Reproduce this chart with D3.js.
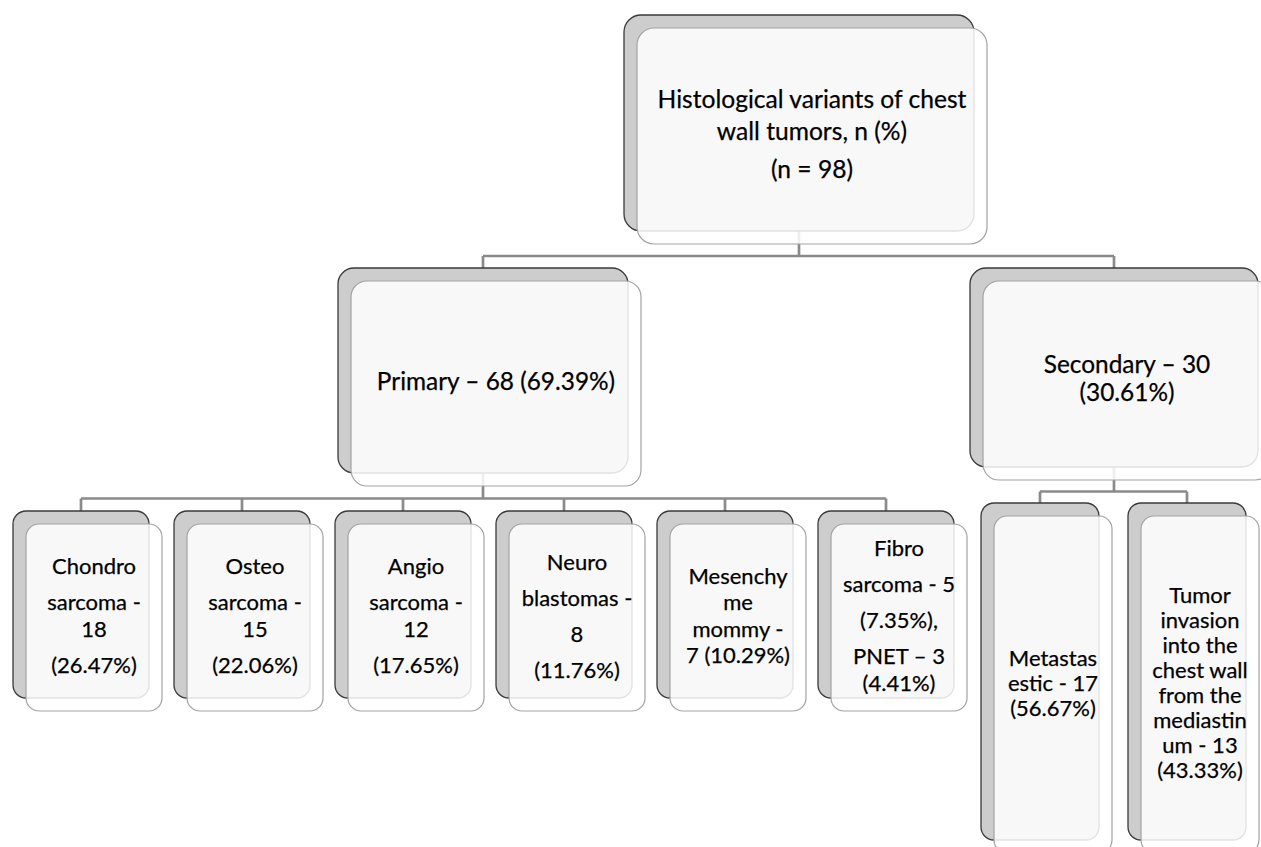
<!DOCTYPE html>
<html>
<head>
<meta charset="utf-8">
<script src="https://cdn.jsdelivr.net/npm/d3@7"></script>
<style>
  html, body { margin: 0; padding: 0; background: #ffffff; }
  svg { display: block; }
</style>
</head>
<body>
<svg id="chart" width="1261" height="847"></svg>
<script>
// ---- values ----
const totalCases = 98;
const groupNames = ["Primary", "Secondary"];
const groupCounts = [68, 30];
const groupPercents = [69.39, 30.61];
const primaryCounts = [18, 15, 12, 8, 7, 5, 3];
const primaryPercents = [26.47, 22.06, 17.65, 11.76, 10.29, 7.35, 4.41];
const secondaryCounts = [17, 13];
const secondaryPercents = [56.67, 43.33];

const pctFmt = d3.format(".2f");
const pct = v => `(${pctFmt(v)}%)`;

// ---- labels: each box holds paragraphs, each paragraph holds lines ----
const rootText = [["Histological variants of chest", "wall tumors, n (%)"], [`(n = ${totalCases})`]];
const groupText = [
  [[`${groupNames[0]} – ${groupCounts[0]} ${pct(groupPercents[0])}`]],
  [[`${groupNames[1]} – ${groupCounts[1]}`, pct(groupPercents[1])]]
];
const primaryText = [
  [["Chondro"], ["sarcoma -", `${primaryCounts[0]}`], [pct(primaryPercents[0])]],
  [["Osteo"], ["sarcoma -", `${primaryCounts[1]}`], [pct(primaryPercents[1])]],
  [["Angio"], ["sarcoma -", `${primaryCounts[2]}`], [pct(primaryPercents[2])]],
  [["Neuro"], ["blastomas -"], [`${primaryCounts[3]}`], [pct(primaryPercents[3])]],
  [["Mesenchy", "me", "mommy -", `${primaryCounts[4]} ${pct(primaryPercents[4])}`]],
  [["Fibro"], [`sarcoma - ${primaryCounts[5]}`], [`${pct(primaryPercents[5])},`],
   [`PNET – ${primaryCounts[6]}`, pct(primaryPercents[6])]]
];
const secondaryText = [
  [["Metastas", `estic - ${secondaryCounts[0]}`, pct(secondaryPercents[0])]],
  [["Tumor", "invasion", "into the", "chest wall", "from the", "mediastin",
    `um - ${secondaryCounts[1]}`, pct(secondaryPercents[1])]]
];

const root = d3.hierarchy({
  text: rootText,
  children: [
    { text: groupText[0], children: primaryText.map(t => ({ text: t })) },
    { text: groupText[1], children: secondaryText.map(t => ({ text: t })) }
  ]
});

// ---- layout of the boxes ----
const FRONT_DX = 13, FRONT_DY = 13;
const xGroups = d3.scalePoint().domain([0, 1]).range([483, 1114]);
const xPrimary = d3.scalePoint().domain(d3.range(primaryText.length)).range([81, 886]);
const xSecondary = d3.scalePoint().domain(d3.range(secondaryText.length)).range([1040, 1187]);

root.each(d => {
  const i = d.parent ? d.parent.children.indexOf(d) : 0;
  if (d.depth === 0) {
    Object.assign(d, { cx: 799, y: 15, w: 350, h: 216, r: 17, font: 24.6, line: 32, gap: 6 });
  } else if (d.depth === 1) {
    Object.assign(d, { cx: xGroups(i), y: 268, w: i === 0 ? 290 : 288, h: i === 0 ? 205 : 199,
                       r: 16, font: 24.4, line: 28, gap: 6 });
  } else if (d.parent.data.text === groupText[0]) {
    Object.assign(d, { cx: xPrimary(i), y: 511, w: 136, h: 187, r: 13, font: 22, line: 26.5, gap: 9.5 });
  } else {
    Object.assign(d, { cx: xSecondary(i), y: 503, w: 118, h: 337, r: 13, font: 22, line: 25, gap: 6 });
  }
  d.x0 = d.cx - d.w / 2;
});

const svg = d3.select("#chart");

// ---- connectors (drawn first so the translucent cards sit on top) ----
const linkPath = d3.path();
root.each(d => {
  if (!d.children) return;
  const frontBottom = d.y + FRONT_DY + d.h;
  const childTop = d3.min(d.children, c => c.y);
  const midY = (frontBottom + childTop) / 2;
  linkPath.moveTo(d.cx, d.y + d.h / 2);
  linkPath.lineTo(d.cx, midY);
  const xs = d.children.map(c => c.cx);
  linkPath.moveTo(d3.min(xs), midY);
  linkPath.lineTo(d3.max(xs), midY);
  d.children.forEach(c => {
    linkPath.moveTo(c.cx, midY);
    linkPath.lineTo(c.cx, c.y + 2);
  });
});
svg.append("path")
  .attr("d", linkPath.toString())
  .attr("fill", "none")
  .attr("stroke", "#8a8a8a")
  .attr("stroke-width", 2.7);

const nodes = root.descendants();

// ---- back cards ----
svg.append("g").selectAll("rect")
  .data(nodes)
  .join("rect")
  .attr("x", d => d.x0)
  .attr("y", d => d.y)
  .attr("width", d => d.w)
  .attr("height", d => d.h)
  .attr("rx", d => d.r)
  .attr("fill", "#cdcdcd")
  .attr("stroke", "#3a3a3a")
  .attr("stroke-width", 1.3);

// ---- front cards ----
svg.append("g").selectAll("rect")
  .data(nodes)
  .join("rect")
  .attr("x", d => d.x0 + FRONT_DX)
  .attr("y", d => d.y + FRONT_DY)
  .attr("width", d => d.w)
  .attr("height", d => d.h)
  .attr("rx", d => d.r)
  .attr("fill", "#ffffff")
  .attr("fill-opacity", 0.85)
  .attr("stroke", "#a3a3a3")
  .attr("stroke-width", 1.2);

// ---- labels, centred in the front card ----
const labels = svg.append("g")
  .attr("font-family", "Lato, 'Open Sans', sans-serif")
  .attr("fill", "#000000")
  .attr("stroke", "#000000")
  .attr("stroke-width", 0.25)
  .attr("text-anchor", "middle");

nodes.forEach(d => {
  const lines = [];
  let yPos = 0;
  d.data.text.forEach((para, pi) => {
    para.forEach((ln, li) => {
      if (lines.length) yPos += d.line + (li === 0 && pi > 0 ? d.gap : 0);
      lines.push({ t: ln, y: yPos });
    });
  });
  const span = yPos;
  const cx = d.cx + FRONT_DX;
  const cy = d.y + FRONT_DY + d.h / 2;
  const firstBase = cy - span / 2 + 0.275 * d.font;
  labels.append("g")
    .attr("font-size", d.font)
    .selectAll("text")
    .data(lines)
    .join("text")
    .attr("x", cx)
    .attr("y", l => firstBase + l.y)
    .text(l => l.t);
});
</script>
</body>
</html>
